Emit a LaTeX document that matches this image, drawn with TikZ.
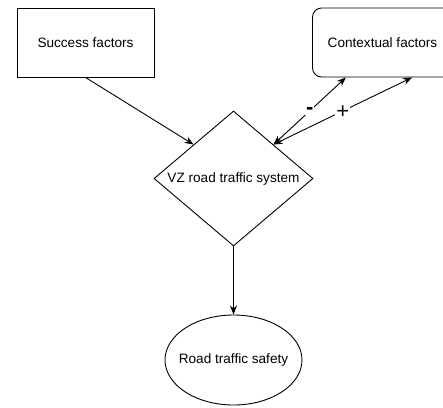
\documentclass[tikz,border=0pt]{standalone}
\usepackage{fontspec}
\setmainfont{Liberation Sans}
\usetikzlibrary{shapes.geometric,arrows.meta,calc}

\tikzset{
  block/.style={draw, line width=0.9pt, minimum width=137pt, minimum height=69pt, font=\fontsize{13.6}{15}\selectfont},
  link/.style={line width=0.9pt, -{Stealth[length=9pt,width=7pt]}},
  sign/.style={fill=white, inner sep=1pt, font=\fontsize{22}{22}\selectfont}
}

\begin{document}
\begin{tikzpicture}[x=1pt,y=-1pt]
                    \useasboundingbox (0,0) rectangle (443,407);

                    \node[block] (succ) at (85.5,42.5) {Success factors};
                    \node[block, rounded corners=9pt, minimum width=140pt] (ctx) at (382.5,42.5) {Contextual factors};

                    \node[draw, diamond, line width=0.9pt, minimum width=159pt, minimum height=135pt, inner sep=0pt,
                          label={[font=\fontsize{13.6}{15}\selectfont]center:VZ road traffic system}] (vz) at (233.5,178.5) {};

                    \node[draw, ellipse, line width=0.9pt, minimum width=137pt, minimum height=90pt, inner sep=0pt,
                          label={[font=\fontsize{13.6}{15}\selectfont]center:Road traffic safety}] (safe) at (233.5,360) {};

                    \coordinate (ctxa) at ($(ctx.south west)!0.24!(ctx.south east)$);
                    \coordinate (ctxb) at ($(ctx.south west)!0.71!(ctx.south east)$);

                    \draw[link] (succ.south) -- (vz.north west);
                    \draw[link, {Stealth[length=9pt,width=7pt]}-{Stealth[length=9pt,width=7pt]}] (vz.north east) -- (ctxa) node[sign, pos=0.5] (minus) {\textbf{-}};
                    \draw[link, {Stealth[length=9pt,width=7pt]}-{Stealth[length=9pt,width=7pt]}] (vz.north east) -- (ctxb) node[sign, pos=0.5, yshift=-1pt] (plus) {+};
                    \draw[link] (vz.south) -- (safe.north);

                \end{tikzpicture}
\end{document}
